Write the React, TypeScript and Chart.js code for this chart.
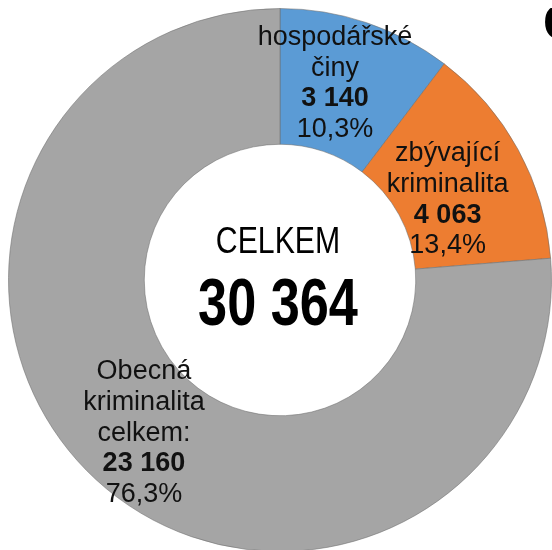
import React, { useEffect, useRef } from "react";
import { Chart, registerables } from "chart.js";

Chart.register(...registerables);

const categories = ["hospodářské činy", "zbývající kriminalita", "Obecná kriminalita celkem:"];
const values = [3140, 4063, 23160];
const percentLabels = ["10,3%", "13,4%", "76,3%"];
const labelLines = [["hospodářské", "činy"], ["zbývající", "kriminalita"], ["Obecná", "kriminalita", "celkem:"]];
const centerTitle = "CELKEM";
const centerTotal = 30364;
const cornerTitle = "C";

const colors = ["#5B9BD5", "#ED7D31", "#A5A5A5"];
const labelOffsets = [[-10, 4], [-11, 25], [2, 11]];

const fmt = (n: number) => String(n).replace(/\B(?=(\d{3})+(?!\d))/g, " ");

const labelPlugin = {
  id: "labelPlugin",
  afterDraw(chart: any) {
    const ctx = chart.ctx as CanvasRenderingContext2D;
    const meta = chart.getDatasetMeta(0);
    const lh = 30.7;
    meta.data.forEach((arc: any, i: number) => {
      const { x, y, startAngle, endAngle, innerRadius, outerRadius } = arc.getProps(
        ["x", "y", "startAngle", "endAngle", "innerRadius", "outerRadius"],
        true
      );
      const mid = (startAngle + endAngle) / 2;
      const r = (innerRadius + outerRadius) / 2;
      const ax = x + Math.cos(mid) * r + labelOffsets[i][0];
      const ay = y + Math.sin(mid) * r + labelOffsets[i][1];
      const lines: { t: string; bold: boolean }[] = [
        ...labelLines[i].map((t) => ({ t, bold: false })),
        { t: fmt(values[i]), bold: true },
        { t: percentLabels[i], bold: false },
      ];
      const n = lines.length;
      ctx.save();
      ctx.fillStyle = "#111";
      ctx.textAlign = "center";
      ctx.textBaseline = "alphabetic";
      lines.forEach((ln, j) => {
        ctx.font = `${ln.bold ? "bold " : ""}27px "Liberation Sans", Arial, sans-serif`;
        ctx.fillText(ln.t, ax, ay + (j - (n - 1) / 2) * lh);
      });
      ctx.restore();
    });

    const a0 = meta.data[0];
    const cx = a0.x;
    const cy = a0.y;
    ctx.save();
    ctx.fillStyle = "#000";
    ctx.textAlign = "center";
    ctx.textBaseline = "alphabetic";
    ctx.save();
    ctx.translate(cx - 2, cy - 27);
    ctx.scale(0.84, 1);
    ctx.font = `36px "Liberation Sans", Arial, sans-serif`;
    ctx.fillText(centerTitle, 0, 0);
    ctx.restore();
    ctx.save();
    ctx.translate(cx - 2, cy + 45);
    ctx.scale(0.78, 1);
    ctx.font = `bold 67px "Liberation Sans", Arial, sans-serif`;
    ctx.fillText(fmt(centerTotal), 0, 0);
    ctx.restore();
    ctx.textAlign = "left";
    ctx.font = `bold 50px "Liberation Sans", Arial, sans-serif`;
    ctx.fillText(cornerTitle, 535, 32);
    ctx.restore();
  },
};

export default function App() {
  const ref = useRef<HTMLCanvasElement | null>(null);
  useEffect(() => {
    if (!ref.current) return;
    const chart = new Chart(ref.current, {
      type: "doughnut",
      data: {
        labels: categories,
        datasets: [
          {
            data: values,
            backgroundColor: colors,
            borderColor: "rgba(110,110,110,0.55)",
            borderWidth: 1,
          },
        ],
      },
      options: {
        responsive: false,
        animation: false,
        cutout: "50%",
        layout: { padding: 0 },
        plugins: { legend: { display: false }, tooltip: { enabled: false } },
      },
      plugins: [labelPlugin],
    });
    return () => chart.destroy();
  }, []);
  return (
    <div
      style={{
        position: "fixed",
        left: 0,
        top: 0,
        width: 552,
        height: 550,
        overflow: "hidden",
        background: "#fff",
      }}
    >
      <canvas
        ref={ref}
        width={544}
        height={544}
        style={{ position: "absolute", left: 8, top: 8, width: 544, height: 544 }}
      />
    </div>
  );
}
